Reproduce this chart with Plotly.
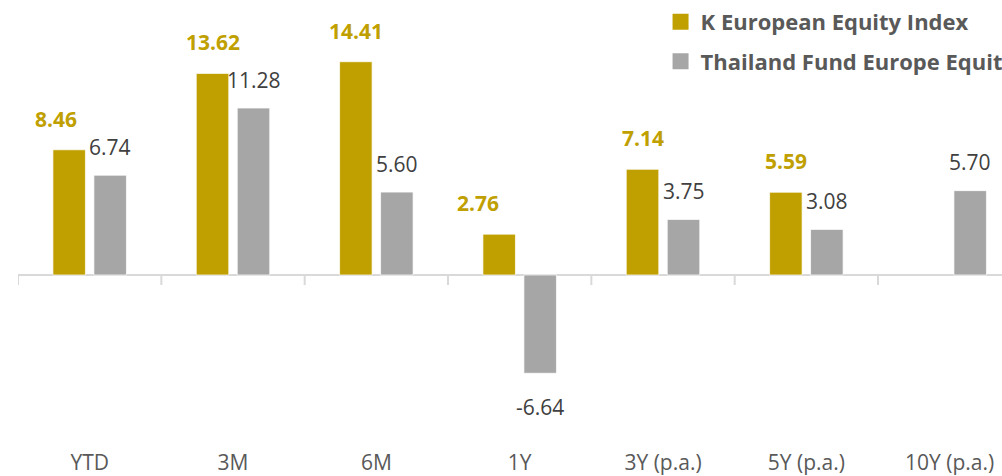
import plotly.graph_objects as go

categories = ["YTD", "3M", "6M", "1Y", "3Y (p.a.)", "5Y (p.a.)", "10Y (p.a.)"]
fund_name = "K European Equity Index"
peer_name = "Thailand Fund Europe Equity"
fund_values = [8.46, 13.62, 14.41, 2.76, 7.14, 5.59, None]
peer_values = [6.74, 11.28, 5.60, -6.64, 3.75, 3.08, 5.70]

GOLD = "#C0A000"
GRAY = "#A6A6A6"
FONT = "Open Sans"

# layout / style constants
BARGAP = 0.428
BARGROUPGAP = 0.207
Y_RANGE = [-11.69, 18.58]
X_RANGE = [-0.5, 6.365]
gold_label_xshift = {"YTD": -13, "1Y": -21}  # label nudges seen in the original

x_idx = list(range(len(categories)))
slot = (1 - BARGAP) / 2

fig = go.Figure()
fig.add_trace(go.Bar(x=x_idx, y=fund_values, name=fund_name, marker=dict(color=GOLD, line=dict(color="rgba(255,255,255,0.7)", width=1)), showlegend=False, hoverinfo="skip"))
fig.add_trace(go.Bar(x=x_idx, y=peer_values, name=peer_name, marker=dict(color=GRAY, line=dict(color="rgba(255,255,255,0.7)", width=1)), showlegend=False, hoverinfo="skip"))

# legend entries (larger square markers)
for nm, col in [(fund_name, GOLD), (peer_name, GRAY)]:
    fig.add_trace(go.Scatter(x=[None], y=[None], mode="markers", name=nm, legendgroup=nm,
                             marker=dict(symbol="square", size=17, color=col)))

annotations = []
for i, (c, v) in enumerate(zip(categories, fund_values)):
    if v is None:
        continue
    annotations.append(dict(x=i - slot / 2, y=v, xref="x", yref="y", text=f"{v:.2f}", showarrow=False,
                            xshift=gold_label_xshift.get(c, 0), yshift=31 if v >= 0 else -33, yanchor="middle",
                            font=dict(family=FONT, size=21, color=GOLD, weight="bold")))
for i, v in enumerate(peer_values):
    if v is None:
        continue
    annotations.append(dict(x=i + slot / 2, y=v, xref="x", yref="y", text=f"{v:.2f}", showarrow=False,
                            yshift=28.5 if v >= 0 else -33.5, yanchor="middle",
                            font=dict(family=FONT, size=21, color="#404040")))

shapes = []
for i in range(len(categories)):
    shapes.append(dict(type="line", xref="x", yref="y", x0=i - 0.5, x1=i - 0.5,
                       ysizemode="pixel", yanchor=0, y0=0, y1=-10,
                       line=dict(color="#D9D9D9", width=2)))

fig.update_layout(
    width=1002, height=476,
    margin=dict(l=18, r=0, t=0, b=28, autoexpand=False),
    paper_bgcolor="white", plot_bgcolor="white",
    barmode="group", bargap=BARGAP, bargroupgap=BARGROUPGAP,
    font=dict(family=FONT, color="#595959"),
    xaxis=dict(range=X_RANGE, tickmode="array", tickvals=x_idx, ticktext=categories,
               showgrid=False, zeroline=False, showline=False, ticks="",
               tickfont=dict(family=FONT, size=21, color="#595959")),
    yaxis=dict(range=Y_RANGE, showgrid=False, showticklabels=False, zeroline=True,
               zerolinecolor="#D9D9D9", zerolinewidth=2, showline=False, ticks=""),
    legend=dict(x=0.653, y=0.998, xanchor="left", yanchor="top", bgcolor="rgba(0,0,0,0)",
                font=dict(family=FONT, size=22, color="#595959", weight="bold"),
                tracegroupgap=8, itemsizing="trace"),
    annotations=annotations, shapes=shapes,
)

fig.write_html("out.html", config={"displayModeBar": False},
               post_script="document.body.style.margin='0';document.body.style.overflow='hidden';")
